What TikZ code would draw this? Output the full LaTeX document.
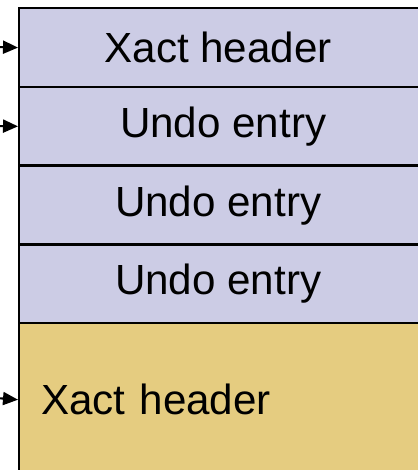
\documentclass[tikz,border=0pt]{standalone}
\usepackage{fontspec}
\setmainfont{Liberation Sans}
\usetikzlibrary{arrows.meta}

\definecolor{undoblue}{RGB}{204,204,229}
\definecolor{xacttan}{RGB}{229,204,128}

\tikzset{
  logrow/.style={draw, line width=1.4pt, fill=undoblue, anchor=north west,
    inner sep=0pt, minimum width=8.08cm, minimum height=1.575cm,
    font=\fontsize{24}{28}\selectfont},
  ptr/.style={->, line width=1.2pt},
}

\begin{document}
\begin{tikzpicture}[x=0.02cm, y=-0.02cm, >={Triangle[length=0.3cm,width=0.26cm]}]
				\useasboundingbox (0,0) rectangle (418,470);
				\clip (0,0) rectangle (418,470);
				% log records, top to bottom
				\node[logrow] (hdr1) at (18,7) {\hspace{-0.12cm}Xact header};
				\node[logrow] (undo1) at (18,85.75) {\hspace{0.08cm}Undo entry};
				\node[logrow] (undo2) at (18,164.5) {\hspace{-0.12cm}Undo entry};
				\node[logrow] (undo3) at (18,243.25) {\hspace{-0.12cm}Undo entry};
				\node[logrow, fill=xacttan, minimum height=3.06cm, text width=7.2cm,
					align=left, inner xsep=0.44cm] (hdr2) at (18,322) {Xact header};
				% pointers coming in from the left
				\coordinate (p1) at (-4,47);
				\coordinate (p2) at (-4,126);
				\coordinate (p3) at (-4,398);
				\draw[ptr] (p1) -- (hdr1.west);
				\draw[ptr] (p2) -- (undo1.west);
				\draw[ptr] (p3) -- (hdr2.west);
			\end{tikzpicture}
\end{document}
